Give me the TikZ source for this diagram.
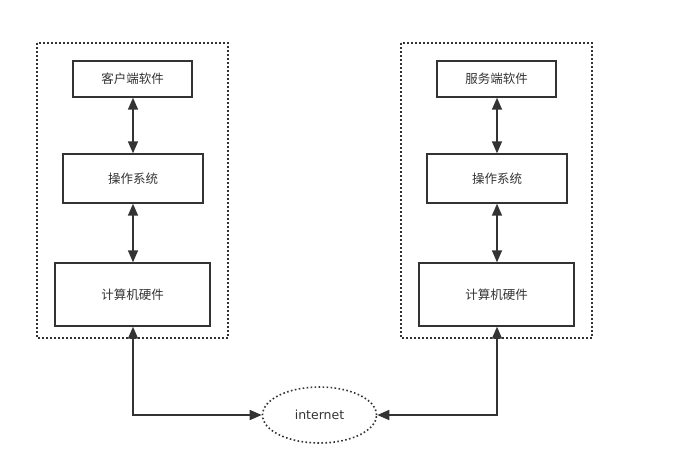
\documentclass[tikz,border=0pt]{standalone}
\usepackage{fontspec}
\setmainfont{Noto Sans CJK SC}
\newfontfamily\latinfont{DejaVu Sans}
\usetikzlibrary{arrows.meta,positioning,calc,shapes.geometric}
\definecolor{ink}{HTML}{333333}

\tikzset{
  box/.style={draw=ink,line width=1.4pt,text=ink,font=\fontsize{12.5}{14}\selectfont,inner sep=0pt},
  hostbox/.style={draw=ink,line width=1.6pt,dash pattern=on 1.6pt off 2.4pt},
  link/.style={draw=ink,line width=1.6pt,{Triangle[length=12pt,width=10pt]}-{Triangle[length=12pt,width=10pt]}}
}

\begin{document}
\begin{tikzpicture}[x=1pt,y=-1pt]
\useasboundingbox (0,0) rectangle (681,459);
% client side
\draw[hostbox] (37,43) rectangle (228,338);
\node[box,minimum width=119pt,minimum height=36pt] (app1) at (132.5,79) {客户端软件};
\node[box,minimum width=140pt,minimum height=49pt] (os1) at (133,178.5) {操作系统};
\node[box,minimum width=155pt,minimum height=63pt] (hw1) at (132.5,294.5) {计算机硬件};
% server side
\draw[hostbox] (401,43) rectangle (592,338);
\node[box,minimum width=119pt,minimum height=36pt] (app2) at (496.5,79) {服务端软件};
\node[box,minimum width=140pt,minimum height=49pt] (os2) at (497,178.5) {操作系统};
\node[box,minimum width=155pt,minimum height=63pt] (hw2) at (496.5,294.5) {计算机硬件};
% network
\node[ellipse,hostbox,text=ink,font=\latinfont\fontsize{12.5}{14}\selectfont,minimum width=114pt,minimum height=56pt,inner sep=0pt] (net) at (319.5,415) {internet};
\draw[link] (app1.south -| 133,0) -- (os1.north -| 133,0);
\draw[link] (os1.south -| 133,0) -- (hw1.north -| 133,0);
\draw[link] (app2.south -| 497,0) -- (os2.north -| 497,0);
\draw[link] (os2.south -| 497,0) -- (hw2.north -| 497,0);
\draw[link] (hw1.south -| 133,0) |- (net.west);
\draw[link] (hw2.south -| 497,0) |- (net.east);
\end{tikzpicture}
\end{document}
